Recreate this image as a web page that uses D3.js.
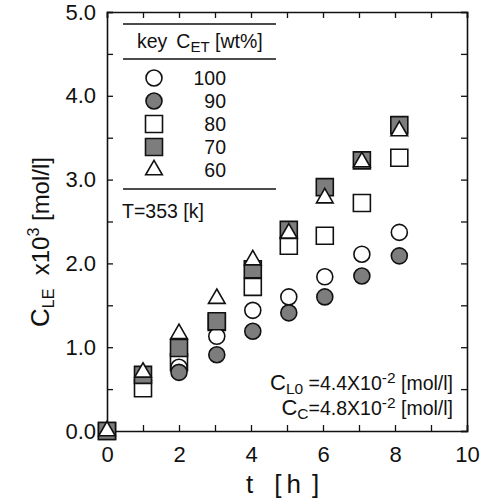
<!DOCTYPE html>
<html><head><meta charset="utf-8">
<script src="https://cdn.jsdelivr.net/npm/d3@7"></script>
<style>body{margin:0;background:#fff}svg{display:block}text{font-family:"Liberation Sans",Arial,Helvetica,sans-serif;fill:#111}</style>
</head><body>
<script>
const times = [0, 1, 2, 3.05, 4.05, 5.05, 6.05, 7.08, 8.12];
const c100 = [0, null, 0.76, 1.13, 1.44, 1.60, 1.84, 2.11, 2.37];
const c90  = [0, null, 0.70, 0.91, 1.19, 1.41, 1.60, 1.85, 2.09];
const c80  = [0, 0.51, 0.82, 1.30, 1.72, 2.21, 2.33, 2.72, 3.26];
const c70  = [0, 0.67, 0.99, 1.31, 1.93, 2.40, 2.91, 3.23, 3.65];
const c60  = [0, 0.70, 1.16, 1.58, 2.04, 2.36, 2.78, 3.21, 3.58];
const xTicks = [0, 2, 4, 6, 8, 10];
const yTicks = [0, 1, 2, 3, 4, 5];
const legendKeys = ["100", "90", "80", "70", "60"];

const W = 483, H = 501;
const m = {left: 107, right: 16, top: 12, bottom: 70};
const svg = d3.select("body").append("svg").attr("width", W).attr("height", H);
const x = d3.scaleLinear().domain([0, 10]).range([m.left, W - m.right]);
const y = d3.scaleLinear().domain([0, 5]).range([H - m.bottom, m.top]);
const fillGray = "#7d7d7d";
const FONT = '"Liberation Sans",Arial,sans-serif';

const styles = {
  "100": {type: d3.symbolCircle, size: 201, fill: "#fff"},
  "90":  {type: d3.symbolCircle, size: 201, fill: fillGray},
  "80":  {type: d3.symbolSquare, size: 289, fill: "#fff"},
  "70":  {type: d3.symbolSquare, size: 289, fill: fillGray},
  "60":  {type: d3.symbolTriangle, size: 120, fill: "#fff"}
};
const seriesMap = {"100": c100, "90": c90, "80": c80, "70": c70, "60": c60};
const drawOrder = ["80", "100", "90", "70", "60"];

// axes: ticks inward on all four sides
const minor = d3.range(0, 10.01, 1);
const yMinor = d3.range(0, 5.01, 0.5);
const gB = svg.append("g").attr("transform", `translate(0,${y(0)})`)
  .call(d3.axisTop(x).tickValues(minor).tickSize(6).tickFormat(""));
const gT = svg.append("g").attr("transform", `translate(0,${y(5)})`)
  .call(d3.axisBottom(x).tickValues(minor).tickSize(6).tickFormat(""));
const gL = svg.append("g").attr("transform", `translate(${x(0)},0)`)
  .call(d3.axisRight(y).tickValues(yMinor).tickSize(6).tickFormat(""));
const gR = svg.append("g").attr("transform", `translate(${x(10)},0)`)
  .call(d3.axisLeft(y).tickValues(yMinor).tickSize(6).tickFormat(""));
[gB, gT, gL, gR].forEach(g => {
  g.selectAll("path.domain").attr("stroke", "#111").attr("stroke-width", 1.6);
  g.selectAll(".tick line").attr("stroke", "#111").attr("stroke-width", 1.3);
});
// tick labels
const lx = svg.append("g").attr("transform", `translate(0,${y(0)})`)
  .call(d3.axisBottom(x).tickValues(xTicks).tickSize(0).tickPadding(15).tickFormat(d3.format("d")));
lx.select(".domain").remove();
lx.selectAll("text").attr("font-size", 22).style("font-family", FONT).attr("fill", "#111");
const ly = svg.append("g").attr("transform", `translate(${x(0)},0)`)
  .call(d3.axisLeft(y).tickValues(yTicks).tickSize(0).tickPadding(11).tickFormat(d3.format(".1f")));
ly.select(".domain").remove();
ly.selectAll("text").attr("font-size", 22).style("font-family", FONT).attr("fill", "#111");

// axis titles
const xt = svg.append("text").attr("x", 246).attr("y", 493).attr("font-size", 26);
xt.append("tspan").text("t");
xt.append("tspan").attr("dx", 21).text("[");
xt.append("tspan").attr("dx", 5).text("h");
xt.append("tspan").attr("dx", 11).text("]");
const yt = svg.append("text").attr("transform", "translate(49,242) rotate(-90)").attr("text-anchor", "middle").attr("font-size", 26);
yt.append("tspan").text("C");
yt.append("tspan").attr("font-size", 16).attr("dy", 5).text("LE");
yt.append("tspan").attr("dy", -5).attr("font-size", 24).text("\u00a0\u00a0x10");
yt.append("tspan").attr("font-size", 16).attr("dy", -10).text("3");
yt.append("tspan").attr("font-size", 24).attr("dy", 10).text("\u00a0[mol/l]");

// data points
drawOrder.forEach(k => {
  const st = styles[k];
  const sym = d3.symbol().type(st.type).size(st.size);
  const pts = times.map((t, i) => ({t, v: seriesMap[k][i]})).filter(d => d.v !== null);
  svg.append("g").selectAll("path").data(pts).join("path")
    .attr("d", sym)
    .attr("transform", d => `translate(${x(d.t)},${y(d.v)})`)
    .attr("fill", st.fill).attr("stroke", "#111").attr("stroke-width", 1.6);
});

// legend
const lg = svg.append("g");
[24, 59, 189].forEach(yy => lg.append("line").attr("x1", 123).attr("x2", 276).attr("y1", yy).attr("y2", yy)
  .attr("stroke", "#111").attr("stroke-width", 1.3));
const hd = lg.append("text").attr("x", 137).attr("y", 48).attr("font-size", 19.5);
hd.append("tspan").text("key");
hd.append("tspan").attr("dx", 9).text("C");
hd.append("tspan").attr("font-size", 15).attr("dy", 4).text("ET");
hd.append("tspan").attr("dy", -4).text(" [wt%]");
legendKeys.forEach((k, i) => {
  const st = styles[k];
  const cy = 78 + i * 23;
  lg.append("path").attr("d", d3.symbol().type(st.type).size(st.size))
    .attr("transform", `translate(154,${cy})`).attr("fill", st.fill).attr("stroke", "#111").attr("stroke-width", 1.6);
  lg.append("text").attr("x", 226).attr("y", cy + 7).attr("text-anchor", "end").attr("font-size", 19.5).text(k);
});
lg.append("text").attr("x", 122).attr("y", 218).attr("font-size", 19.5).text("T=353 [k]");

// annotation
const a1 = svg.append("text").attr("x", 453).attr("y", 390).attr("text-anchor", "end").attr("font-size", 19.5);
a1.append("tspan").attr("font-size", 22).text("C");
a1.append("tspan").attr("font-size", 15.5).attr("dy", 4).text("L0");
a1.append("tspan").attr("dy", -4).text(" =4.4X10");
a1.append("tspan").attr("font-size", 15.5).attr("dy", -7).text("-2");
a1.append("tspan").attr("dy", 7).text(" [mol/l]");
const a2 = svg.append("text").attr("x", 453).attr("y", 415).attr("text-anchor", "end").attr("font-size", 19.5);
a2.append("tspan").attr("font-size", 22).text("C");
a2.append("tspan").attr("font-size", 15.5).attr("dy", 4).text("C");
a2.append("tspan").attr("dy", -4).text("=4.8X10");
a2.append("tspan").attr("font-size", 15.5).attr("dy", -7).text("-2");
a2.append("tspan").attr("dy", 7).text(" [mol/l]");
</script>
</body></html>
